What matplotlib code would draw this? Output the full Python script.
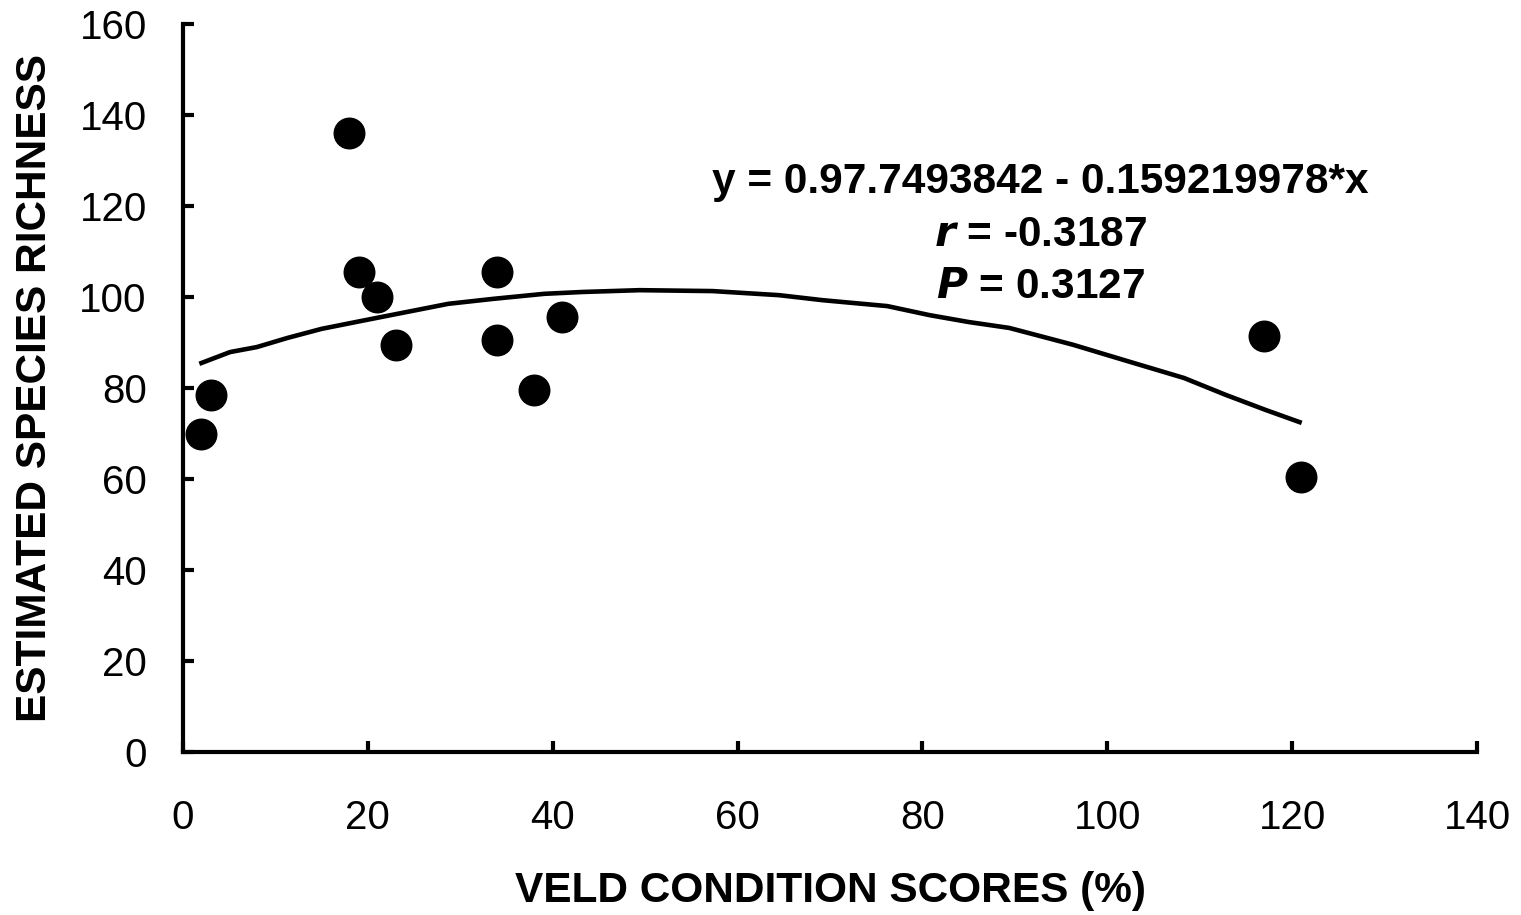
import matplotlib
matplotlib.use("Agg")
import matplotlib.pyplot as plt

# scatter data
veld_score = [2, 3, 18, 19, 21, 23, 34, 34, 38, 41, 117, 121]
richness = [70, 78.5, 136, 105.5, 100, 89.5, 105.5, 90.5, 79.5, 95.5, 91.5, 60.5]

# fitted curve, points
fit_x = [2.0, 5.1, 8.0, 11.3, 15.0, 19.2, 23.7, 28.7, 33.6, 39.1, 43.2, 49.4,
         57.3, 64.5, 69.2, 76.2, 80.8, 85.0, 89.4, 96.3, 101.7, 108.3, 112.8,
         117.1, 120.8]
fit_y = [85.5, 87.9, 89.0, 91.0, 93.0, 94.7, 96.5, 98.5, 99.6, 100.7, 101.1, 101.5,
         101.3, 100.4, 99.3, 98.0, 96.0, 94.5, 93.2, 89.5, 86.2, 82.2, 78.5,
         75.2, 72.5]

x_ticks = [0, 20, 40, 60, 80, 100, 120, 140]
y_ticks = [0, 20, 40, 60, 80, 100, 120, 140, 160]

eq_lines = ["y = 0.97.7493842 - 0.159219978*x",
            r"$\mathit{r}$ = -0.3187",
            r"$\mathit{P}$ = 0.3127"]

plt.rcParams['font.family'] = ['Liberation Sans', 'DejaVu Sans']
plt.rcParams['mathtext.fontset'] = 'custom'
plt.rcParams['mathtext.it'] = 'Liberation Sans Narrow:italic:bold'
plt.rcParams['mathtext.rm'] = 'Liberation Sans Narrow:bold'

fig = plt.figure(figsize=(15.21, 9.15), dpi=100)
ax = fig.add_axes([0.1203, 0.1781, 0.8508, 0.7957])

ax.plot(fit_x, fit_y, color='black', lw=3.3, zorder=2)
ax.plot(veld_score, richness, 'o', color='black', markersize=22, zorder=3)

ax.set_xlim(0, 140)
ax.set_ylim(0, 160)
ax.set_xticks(x_ticks)
ax.set_yticks(y_ticks)
for side in ['top', 'right']:
    ax.spines[side].set_visible(False)
for side in ['left', 'bottom']:
    ax.spines[side].set_linewidth(3)
ax.tick_params(direction='in', length=8, width=3, labelsize=29)
ax.tick_params(axis='y', pad=26)
ax.tick_params(axis='x', pad=34)

ax.set_xlabel('VELD CONDITION SCORES (%)', fontsize=30.5, fontweight='bold')
ax.set_ylabel('ESTIMATED SPECIES RICHNESS', fontsize=30.5, fontweight='bold')
ax.xaxis.set_label_coords(0.5, -0.163)
ax.yaxis.set_label_coords(-0.099, 0.5)

# regression annotation
eq_x = 92.8
for txt, yb in zip(eq_lines, [122.9, 111.2, 99.8]):
    ax.text(eq_x, yb, txt, ha='center', va='baseline', fontsize=30.5,
            fontweight='bold', family=['Liberation Sans Narrow', 'Liberation Sans'])

fig.savefig('out.png', dpi=100)
